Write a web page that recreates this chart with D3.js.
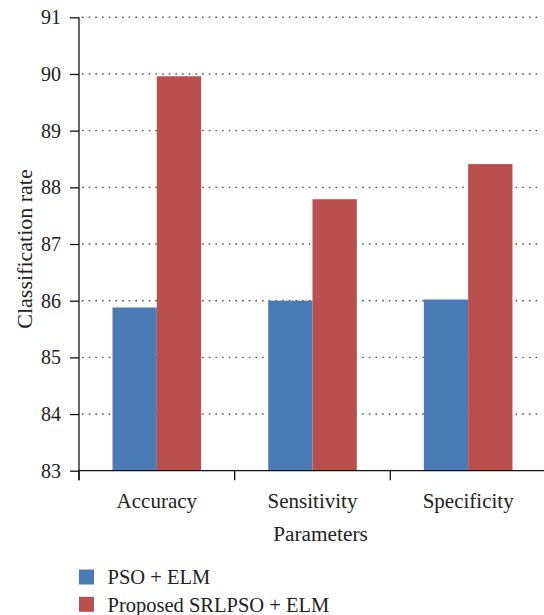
<!DOCTYPE html>
<html>
<head>
<meta charset="utf-8">
<script src="https://cdn.jsdelivr.net/npm/d3@7"></script>
<style>
  html, body { margin: 0; padding: 0; background: #fff; }
  svg { display: block; }
  text { font-family: "Liberation Serif", "DejaVu Serif", serif; fill: #222; }
</style>
</head>
<body>
<svg id="chart" width="544" height="615"></svg>
<script>
const categories = ["Accuracy", "Sensitivity", "Specificity"];
const seriesNames = ["PSO + ELM", "Proposed SRLPSO + ELM"];
const psoElm = [85.88, 86.0, 86.02];
const srlpsoElm = [89.96, 87.79, 88.41];
const yTicks = [83, 84, 85, 86, 87, 88, 89, 90, 91];
const colors = ["#4b7bb4", "#b9504d"];
const seriesValues = [psoElm, srlpsoElm];

(function () {
const svg = d3.select("#chart");
const pLeft = 79, pRight = 546, pTop = 17.3, pBottom = 470.7;

const y = d3.scaleLinear().domain([83, 91]).range([pBottom, pTop]);
const x0 = d3.scaleBand().domain(categories).range([pLeft, pRight]).padding(0);
const x1 = d3.scaleBand().domain(seriesNames).range([0, x0.bandwidth()]).paddingInner(0).paddingOuter(0.757);

// gridlines
svg.append("g").selectAll("line").data(yTicks.filter(t => t > 83)).join("line")
  .attr("x1", 82).attr("x2", 542)
  .attr("y1", d => y(d)).attr("y2", d => y(d))
  .attr("stroke", "#555").attr("stroke-width", 1.4)
  .attr("stroke-dasharray", "1.6,5.07");

// bars
const groups = svg.append("g").selectAll("g").data(categories).join("g")
  .attr("transform", d => `translate(${x0(d)},0)`);
groups.selectAll("rect").data((d, i) => seriesNames.map((s, j) => ({s, v: seriesValues[j][i], j})))
  .join("rect")
  .attr("x", d => x1(d.s)).attr("width", x1.bandwidth())
  .attr("y", d => y(d.v)).attr("height", d => y(83) - y(d.v))
  .attr("fill", d => colors[d.j]);

// y axis
const yAxis = d3.axisLeft(y).tickValues(yTicks).tickSize(9).tickPadding(9).tickFormat(d3.format("d"));
const gy = svg.append("g").attr("transform", `translate(${pLeft},0)`).call(yAxis);
gy.attr("font-family", null);
gy.select(".domain").remove();
gy.append("line").attr("x1", 0).attr("x2", 0).attr("y1", pTop).attr("y2", pBottom + 9.5)
  .attr("stroke", "#111").attr("stroke-width", 1.3);
gy.selectAll(".tick line").attr("stroke", "#111").attr("stroke-width", 1.3);
gy.selectAll(".tick text").attr("font-size", 20).attr("fill", "#222");

// x axis
const gx = svg.append("g");
gx.append("line").attr("x1", pLeft).attr("x2", pRight).attr("y1", pBottom).attr("y2", pBottom)
  .attr("stroke", "#111").attr("stroke-width", 1.3);
gx.selectAll("line.tk").data(categories).join("line").attr("class", "tk")
  .attr("x1", d => x0(d)).attr("x2", d => x0(d))
  .attr("y1", pBottom).attr("y2", pBottom + 9.5)
  .attr("stroke", "#111").attr("stroke-width", 1.3);
gx.selectAll("text").data(categories).join("text")
  .attr("x", d => x0(d) + x0.bandwidth() / 2).attr("y", 508.3)
  .attr("text-anchor", "middle").attr("font-size", 21).text(d => d);

// axis titles
svg.append("text").attr("x", 320.5).attr("y", 540.5).attr("text-anchor", "middle")
  .attr("font-size", 21.3).text("Parameters");
svg.append("text").attr("transform", "translate(31.5,249) rotate(-90)")
  .attr("text-anchor", "middle").attr("font-size", 22).text("Classification rate");

// legend
const lg = svg.append("g").selectAll("g").data(seriesNames).join("g")
  .attr("transform", (d, i) => `translate(79,${569.5 + i * 27.3})`);
lg.append("rect").attr("width", 15).attr("height", 15).attr("fill", (d, i) => colors[i]);
lg.append("text").attr("x", 28.5).attr("y", 14.7).attr("font-size", 20.5).text(d => d);
})();
</script>
</body>
</html>
